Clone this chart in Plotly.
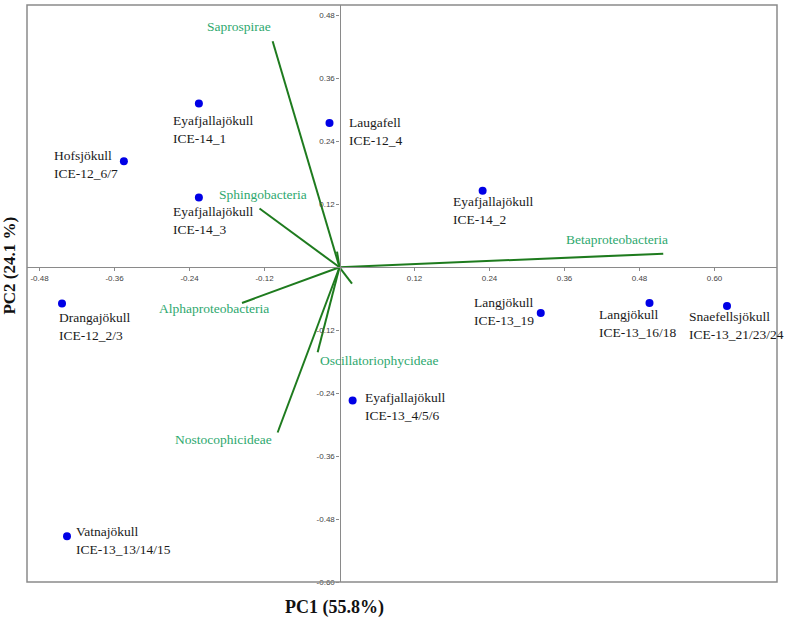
import plotly.graph_objects as go

# ---- data ----
sample_labels = [
    "Eyafjallajökull<br>ICE-14_1",
    "Hofsjökull<br>ICE-12_6/7",
    "Eyafjallajökull<br>ICE-14_3",
    "Laugafell<br>ICE-12_4",
    "Eyafjallajökull<br>ICE-14_2",
    "Langjökull<br>ICE-13_19",
    "Langjökull<br>ICE-13_16/18",
    "Snaefellsjökull<br>ICE-13_21/23/24",
    "Drangajökull<br>ICE-12_2/3",
    "Vatnajökull<br>ICE-13_13/14/15",
    "Eyafjallajökull<br>ICE-13_4/5/6",
]
pc1 = [-0.225, -0.345, -0.225, -0.016, 0.229, 0.322, 0.496, 0.620, -0.444, -0.436, 0.021]
pc2 = [0.312, 0.202, 0.133, 0.275, 0.146, -0.087, -0.068, -0.074, -0.069, -0.513, -0.254]

taxa = ["Saprospirae", "Sphingobacteria", "Betaproteobacteria", "Alphaproteobacteria",
        "Nostocophicideae", "Oscillatoriophycideae", "", ""]
load1 = [-0.107, -0.128, 0.518, -0.156, -0.099, -0.035, -0.004, 0.020]
load2 = [0.431, 0.112, 0.026, -0.068, -0.315, -0.162, 0.030, -0.031]

tick_vals_x = [-0.48, -0.36, -0.24, -0.12, 0.12, 0.24, 0.36, 0.48, 0.60]
tick_vals_y = [-0.60, -0.48, -0.36, -0.24, -0.12, 0.12, 0.24, 0.36, 0.48]
tick_text_x = ["-0.48", "-0.36", "-0.24", "-0.12", "0.12", "0.24", "0.36", "0.48", "0.60"]
tick_text_y = ["-0.60", "-0.48", "-0.36", "-0.24", "-0.12", "0.12", "0.24", "0.36", "0.48"]

# label placement (pixels relative to marker): (dx, dy_down)
sample_offsets = [(-27.6, 26), (-72, 3.3), (-27.6, 23), (17.7, 8.4), (-31.6, 20),
                  (-69, -1.6), (-52.7, 20.7), (-40.4, 19), (-4.6, 23), (7.3, 3.7), (10.7, 5.5)]
# taxa labels: (xanchor, dx, dy_up)
taxa_offsets = [("right", 0, 15), ("left", -43, 14), ("right", 7, 14), ("right", 29, -6),
                ("right", -4, -7), ("left", 0, -8), None, None]

XR = [-0.50, 0.70]
YR = [-0.60, 0.50]

fig = go.Figure()

# vectors
vx, vy = [], []
for a, b in zip(load1, load2):
    vx += [0, a, None]
    vy += [0, b, None]
fig.add_trace(go.Scatter(x=vx, y=vy, mode="lines",
                         line=dict(color="#1e7b1e", width=2), hoverinfo="skip",
                         showlegend=False))

# samples
fig.add_trace(go.Scatter(x=pc1, y=pc2, mode="markers",
                         marker=dict(color="#0000e6", size=8),
                         showlegend=False))

annotations = []
for lab, x, y, (dx, dy) in zip(sample_labels, pc1, pc2, sample_offsets):
    annotations.append(dict(x=x, y=y, xref="x", yref="y", text=lab, showarrow=False,
                            xanchor="left", yanchor="middle", align="left",
                            xshift=dx, yshift=-dy,
                            font=dict(family="Liberation Serif", size=13.5, color="#1a1a1a")))
for name, x, y, off in zip(taxa, load1, load2, taxa_offsets):
    if not name or off is None:
        continue
    xa, dx, dy = off
    annotations.append(dict(x=x, y=y, xref="x", yref="y", text=name, showarrow=False,
                            xanchor=xa, yanchor="middle", xshift=dx, yshift=dy,
                            font=dict(family="Liberation Serif", size=13.5, color="#2ea86e")))

annotations.append(dict(x=0.41, y=-0.045, xref="paper", yref="paper",
                        text="<b>PC1 (55.8%)</b>", showarrow=False,
                        xanchor="center", yanchor="middle",
                        font=dict(family="Liberation Serif", size=18, color="#111111")))
annotations.append(dict(x=-0.023, y=0.548, xref="paper", yref="paper",
                        text="<b>PC2 (24.1 %)</b>", showarrow=False, textangle=-90,
                        xanchor="center", yanchor="middle",
                        font=dict(family="Liberation Serif", size=17, color="#111111")))

fig.update_layout(
    width=787, height=619,
    margin=dict(l=27, r=10, t=5, b=37),
    paper_bgcolor="white", plot_bgcolor="white",
    annotations=annotations,
    xaxis=dict(range=XR, anchor="free", position=(0 - YR[0]) / (YR[1] - YR[0]),
               showgrid=False, zeroline=False, showline=True, linecolor="#8a8a8a",
               linewidth=1.2, ticks="outside", ticklen=3, tickcolor="#8a8a8a",
               tickvals=tick_vals_x, ticktext=tick_text_x,
               tickfont=dict(family="Liberation Sans", size=8, color="#444444")),
    yaxis=dict(range=YR, anchor="free", position=(0 - XR[0]) / (XR[1] - XR[0]),
               showgrid=False, zeroline=False, showline=True, linecolor="#8a8a8a",
               linewidth=1.2, ticks="outside", ticklen=3, tickcolor="#8a8a8a",
               tickvals=tick_vals_y, ticktext=tick_text_y,
               tickfont=dict(family="Liberation Sans", size=8, color="#444444")),
    shapes=[dict(type="rect", xref="paper", yref="paper", x0=0, y0=0, x1=1, y1=1,
                 line=dict(color="#8a8a8a", width=1.5), layer="above")],
)

fig.write_html("out.html", config={"displayModeBar": False},
               post_script="document.body.style.margin='0';document.body.style.overflow='hidden';")
